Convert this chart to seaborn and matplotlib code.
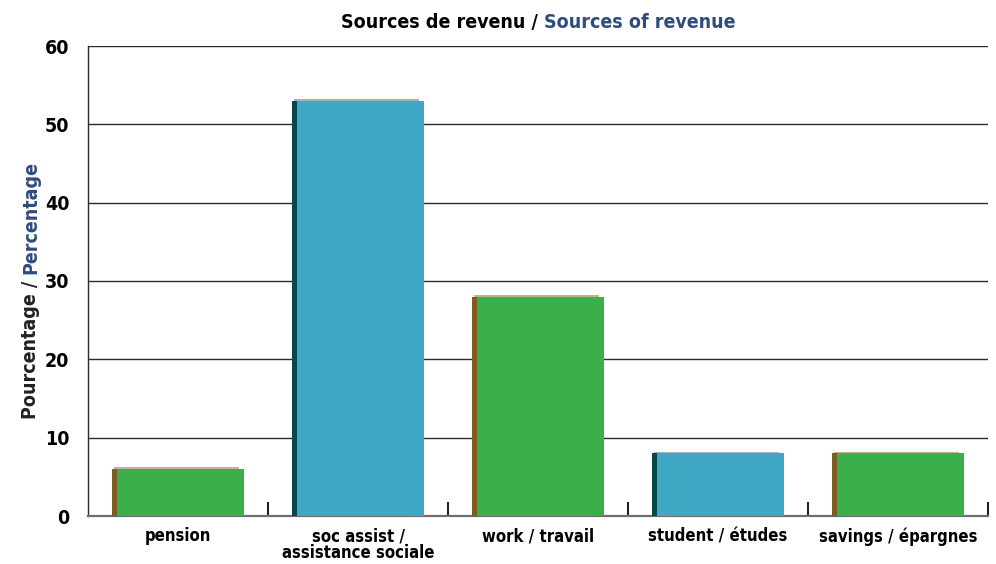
import matplotlib
matplotlib.use("Agg")
import matplotlib.pyplot as plt
import seaborn as sns
import pandas as pd
from matplotlib import font_manager as fm
from matplotlib.patches import Rectangle

categories = ["pension", "soc assist /\nassistance sociale", "work / travail",
              "student / études", "savings / épargnes"]
values = [6, 53, 28, 8, 8]
bar_colors = ["#3BAF4B", "#40A7C4", "#3BAF4B", "#40A7C4", "#3BAF4B"]
side_colors = ["#7E5A24", "#06474A", "#7E5A24", "#06474A", "#7E5A24"]
top_colors = ["#B9A07A", "#8FA6AC", "#B9A07A", "#8FA6AC", "#B9A07A"]
yticks = [0, 10, 20, 30, 40, 50, 60]

condensed = [f for f in fm.fontManager.ttflist
             if "Condensed" in f.fname or "Narrow" in f.fname]
FONT = "DejaVu Sans"
STRETCH = "normal"
for f in condensed:
    if "Bold" in f.fname and "Oblique" not in f.fname and "Italic" not in f.fname:
        FONT = f.name
        STRETCH = f.stretch
        break

sns.set_theme(style="white")
plt.rcParams["font.family"] = [FONT, "DejaVu Sans"]
plt.rcParams["font.stretch"] = STRETCH

df = pd.DataFrame({"cat": categories, "val": values})
fig = plt.figure(figsize=(9.96, 5.64), dpi=100)
ax = fig.add_axes([88/996, 48/564, 900/996, 470/564])

sns.barplot(data=df, x="cat", y="val", hue="cat", palette=bar_colors,
            width=0.73, legend=False, ax=ax, saturation=1, zorder=3)

ax.set_ylim(0, 60)
ax.set_xlim(-0.5, len(categories) - 0.5)
ax.set_yticks(yticks)
ax.yaxis.grid(True, color="#2b2b2b", linewidth=1.0, zorder=0)
ax.set_axisbelow(True)

# 3D-ish left side strip and top rim
side_w = 5 / 180
for p, sc, tc in zip(ax.patches[:len(categories)], side_colors, top_colors):
    x0 = p.get_x()
    h = p.get_height()
    w = p.get_width()
    p.set_edgecolor("none")
    ax.add_patch(Rectangle((x0, 0), side_w, h, facecolor=sc, edgecolor="none", zorder=4))
    ax.plot([x0 + 0.3 * side_w, x0 + w - side_w], [h + 0.1, h + 0.1], color=tc,
            linewidth=1.2, zorder=2.5, solid_capstyle="butt")

for s in ["top", "right"]:
    ax.spines[s].set_visible(False)
ax.spines["left"].set_color("#2b2b2b")
ax.spines["left"].set_linewidth(1.0)
ax.spines["bottom"].set_color("#6e6e6e")
ax.spines["bottom"].set_linewidth(1.6)

ax.set_xlabel("")
ax.set_ylabel("")
ax.tick_params(axis="x", which="major", length=0, pad=8)
ax.tick_params(axis="y", length=0, pad=13.5)
for lab in ax.get_xticklabels():
    lab.set_fontweight("bold"); lab.set_fontsize(12); lab.set_color("black")
    lab.set_linespacing(0.95); lab.set_fontstretch(STRETCH)
for lab in ax.get_yticklabels():
    lab.set_fontweight("bold"); lab.set_fontsize(14); lab.set_color("black")
    lab.set_fontstretch(STRETCH)

# category boundary ticks (inward)
ax.set_xticks([i + 0.5 for i in range(len(categories))], minor=True)
ax.tick_params(axis="x", which="minor", direction="in", length=10, width=1.5,
               color="#222222", bottom=True)

# two-colour title and y label
fig.canvas.draw()
r = fig.canvas.get_renderer()
kw = dict(fontsize=14, fontweight="bold", fontstretch=STRETCH)
t1 = fig.text(0, 0, "Sources de revenu / ", color="black", **kw)
t2 = fig.text(0, 0, "Sources of revenue", color="#2F4C7E", **kw)
w1 = t1.get_window_extent(r).width
w2 = t2.get_window_extent(r).width
cx = 538
ybase = 564 - 28
t1.set_position(((cx - (w1 + w2) / 2) / 996, ybase / 564))
t2.set_position(((cx - (w1 + w2) / 2 + w1) / 996, ybase / 564))

y1 = fig.text(0, 0, "Pourcentage / ", color="#222222",
              rotation=90, va="bottom", ha="left", **kw)
y2 = fig.text(0, 0, "Percentage", color="#2F4C7E",
              rotation=90, va="bottom", ha="left", **kw)
h1 = y1.get_window_extent(r).height
h2 = y2.get_window_extent(r).height
cy = 564 - 290
xl = 21
y1.set_position((xl / 996, (cy - (h1 + h2) / 2) / 564))
y2.set_position((xl / 996, (cy - (h1 + h2) / 2 + h1) / 564))

fig.savefig("out.png", dpi=100)
